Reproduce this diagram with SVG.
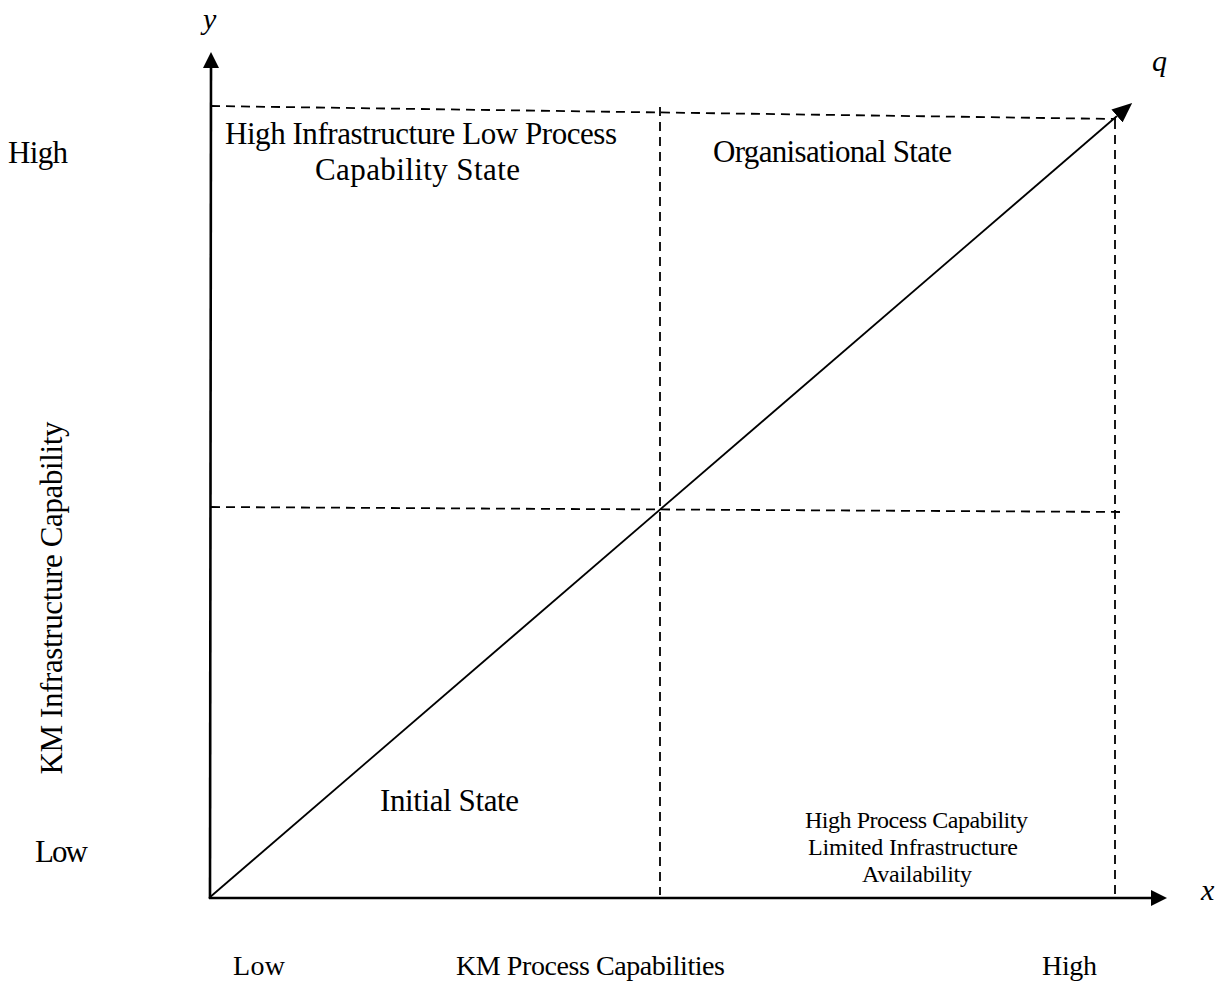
<svg xmlns="http://www.w3.org/2000/svg" width="1215" height="983" viewBox="0 0 1215 983">
<style>
text{font-family:"Liberation Serif","Times New Roman",serif;fill:#000}
.l{font-size:31px}
.m{font-size:28px}
.s{font-size:24px}
.i{font-style:italic;font-size:30px}
.ax{stroke:#000;stroke-width:2.6;fill:none}
.dg{stroke:#000;stroke-width:1.8;fill:none}
.d{stroke:#000;stroke-width:1.8;stroke-dasharray:9,6;fill:none}
</style>
<defs>
<marker id="ah" viewBox="0 0 16 16" refX="0" refY="8" markerWidth="16" markerHeight="16" markerUnits="userSpaceOnUse" orient="auto">
<path d="M0,0 L16,8 L0,16 z" fill="#000"/>
</marker>
<marker id="ahq" viewBox="0 0 20 17" refX="0" refY="8.5" markerWidth="20" markerHeight="17" markerUnits="userSpaceOnUse" orient="auto">
<path d="M0,0 L20,8.5 L0,17 z" fill="#000"/>
</marker>
</defs>
<g id="connectors">
<line class="d" x1="211" y1="106" x2="1116" y2="119"/>
<line class="d" x1="211" y1="507" x2="1122" y2="512"/>
<line class="d" x1="660" y1="107" x2="660" y2="895"/>
<line class="d" x1="1115" y1="120" x2="1115" y2="895"/>
<line class="ax" x1="209" y1="898" x2="1151" y2="898" marker-end="url(#ah)"/>
<line class="ax" x1="210" y1="899" x2="211" y2="68" marker-end="url(#ah)"/>
<line class="dg" x1="209" y1="898" x2="1117" y2="116" marker-end="url(#ahq)"/>
</g>
<g id="axis-labels">
<text class="i" x="203" y="29">y</text>
<text class="i" x="1152" y="71">q</text>
<text class="i" x="1201" y="900">x</text>
<text class="l" x="8" y="163" textLength="60">High</text>
<text class="l" x="35" y="862" textLength="53">Low</text>
<text class="l" transform="translate(62,598) rotate(-90)" text-anchor="middle" textLength="353">KM Infrastructure Capability</text>
<text class="m" x="233" y="975" textLength="52">Low</text>
<text class="m" x="456" y="975" textLength="269">KM Process Capabilities</text>
<text class="m" x="1042" y="975" textLength="55">High</text>
</g>
<g id="q1">
<text class="l" x="225" y="144" textLength="392">High Infrastructure Low Process</text>
<text class="l" x="315" y="180" textLength="205">Capability State</text>
</g>
<g id="q2">
<text class="l" x="713" y="162" textLength="239">Organisational State</text>
</g>
<g id="q3">
<text class="l" x="380" y="811" textLength="139">Initial State</text>
</g>
<g id="q4">
<text class="s" x="805" y="828" textLength="223">High Process Capability</text>
<text class="s" x="808" y="855" textLength="210">Limited Infrastructure</text>
<text class="s" x="862" y="882" textLength="110">Availability</text>
</g>
</svg>
